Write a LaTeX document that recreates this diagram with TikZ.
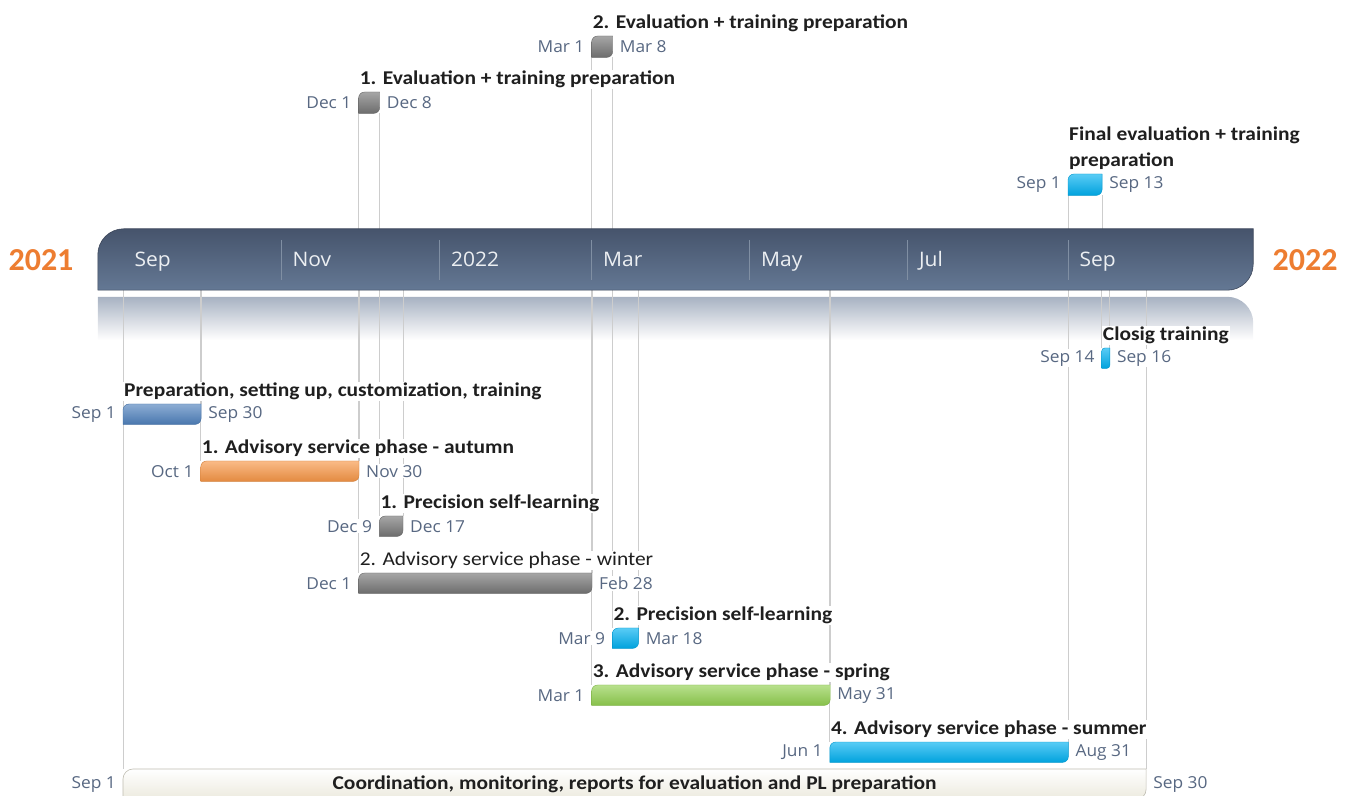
\documentclass[tikz,border=0pt]{standalone}
\usepackage{fontspec}
\setmainfont{Carlito}
\newfontfamily\taskfont{Carlito}[FakeStretch=1.1]
\newfontfamily\datefont{Open Sans}[FakeStretch=1.05]
\usetikzlibrary{positioning}

\definecolor{bandtop}{RGB}{70,84,108}
\definecolor{bandbot}{RGB}{100,120,148}
\definecolor{bandedge}{RGB}{58,68,88}
\definecolor{mirrorgray}{RGB}{168,178,194}
\definecolor{monthsep}{RGB}{128,143,163}
\definecolor{yearorange}{RGB}{237,125,49}
\definecolor{datetext}{RGB}{88,104,130}
\definecolor{guideline}{RGB}{205,205,205}
\definecolor{barblue}{RGB}{79,129,189}
\definecolor{barorange}{RGB}{247,150,70}
\definecolor{bargray}{RGB}{118,118,118}
\definecolor{barcyan}{RGB}{0,176,240}
\definecolor{bargreen}{RGB}{146,208,80}
\definecolor{barbeige}{RGB}{236,234,222}
\definecolor{beigeedge}{RGB}{190,188,176}

\tikzset{
    barbox/.style = {
        rectangle,
        inner sep=0pt,
        minimum height=20pt,
        anchor=north west,
        },
    barfill/.style = {
        top color=#1!65!white,
        bottom color=#1!92!black,
        draw=#1!85!black,
        line width=0.4pt,
        },
    task/.style = {
        font=\taskfont\fontsize{19.5}{26}\selectfont\bfseries,
        text=black!88,
        fill=white,
        inner sep=1pt,
        anchor=base west,
        },
    plain/.style = {
        font=\taskfont\fontsize{19.5}{26}\selectfont,
        },
    date/.style = {
        font=\datefont\fontsize{16.5}{19}\selectfont,
        text=datetext,
        fill=white,
        inner sep=1pt,
        },
    month/.style = {
        font=\datefont\fontsize{20}{22}\selectfont,
        text=white!88!bandbot,
        anchor=base west,
        },
    year/.style = {
        font=\fontsize{32}{36}\selectfont\bfseries,
        text=yearorange,
        },
    guide/.style = {
        draw=guideline,
        line width=0.8pt,
        },
}

% bar with rounded top left and bottom right corners
\newcommand{\leafbar}[3]{%
    \shade[#3] (#1.south west) -- ([yshift=-#2]#1.north west)
        arc[start angle=180, end angle=90, radius=#2] -- (#1.north east)
        -- ([yshift=#2]#1.south east)
        arc[start angle=0, end angle=-90, radius=#2] -- cycle;}

\begin{document}
\begin{tikzpicture}[x=1pt, y=1pt]
    \clip (0,0) rectangle (1354,795);

    % timeline and its reflection
    \node[rectangle, inner sep=0pt, minimum width=1155pt, minimum height=61pt] (band) at (675.5,535.5) {};
    \node[rectangle, inner sep=0pt, minimum width=1155pt, minimum height=43pt] (mirror) at (675.5,476.5) {};
    \shade[top color=mirrorgray, bottom color=white] (mirror.south west) -- (mirror.north west)
        -- ([xshift=-26pt]mirror.north east) arc[start angle=90, end angle=0, radius=26pt]
        -- (mirror.south east) -- cycle;

    % bars above the timeline
    \node[barbox, minimum width=20.7pt, minimum height=21pt] (eval1) at (358.6,703) {};
    \node[barbox, minimum width=20.7pt, minimum height=21pt] (eval2) at (591.6,759) {};
    \node[barbox, minimum width=33.7pt, minimum height=21pt] (final) at (1068,621) {};

    % bars below the timeline
    \node[barbox, minimum width=7.7pt] (closing) at (1101.7,447) {};
    \node[barbox, minimum width=77.7pt] (prep) at (123,391) {};
    \node[barbox, minimum width=157.9pt] (autumn) at (200.7,334) {};
    \node[barbox, minimum width=23.3pt] (self1) at (379.3,279) {};
    \node[barbox, minimum width=233pt] (winter) at (358.6,222) {};
    \node[barbox, minimum width=25.9pt] (self2) at (612.3,167) {};
    \node[barbox, minimum width=238.2pt] (spring) at (591.6,110) {};
    \node[barbox, minimum width=238.2pt] (summer) at (829.8,53) {};
    \node[barbox, minimum width=1022.7pt, minimum height=30pt] (coord) at (123,26) {};

    % guide lines to the timeline
    \foreach \b in {eval1,eval2,final}{
        \draw[guide] (\b.south west) -- (\b.south west |- band.north);
        \draw[guide] (\b.south east) -- (\b.south east |- band.north);
    }
    \foreach \b in {closing,prep,autumn,self1,winter,self2,spring,summer,coord}{
        \draw[guide] (band.south -| \b.north west) -- (\b.north west);
        \draw[guide] (band.south -| \b.north east) -- (\b.north east);
    }

    \leafbar{band}{26pt}{top color=bandtop, bottom color=bandbot, draw=bandedge, line width=0.6pt}

    % months
    \foreach \x in {281,439.6,591.6,749.6,907.5,1068}{
        \draw[monthsep, line width=0.7pt] (\x,555) -- (\x,515);
    }
    \foreach \x/\m [count=\i] in {123/Sep, 281/Nov, 439.6/2022, 591.6/Mar, 749.6/May, 907.5/Jul, 1068/Sep}{
        \node[month] (month\i) at (\x+8,528) {\m};
    }
    \node[year] (y2021) at (41,535) {2021};
    \node[year] (y2022) at (1305,535) {2022};

    % bars
    \leafbar{eval1}{6pt}{barfill=bargray}
    \leafbar{eval2}{6pt}{barfill=bargray}
    \leafbar{final}{6pt}{barfill=barcyan}
    \leafbar{closing}{3pt}{barfill=barcyan}
    \leafbar{prep}{6pt}{barfill=barblue}
    \leafbar{autumn}{6pt}{barfill=barorange}
    \leafbar{self1}{6pt}{barfill=bargray}
    \leafbar{winter}{6pt}{barfill=bargray}
    \leafbar{self2}{6pt}{barfill=barcyan}
    \leafbar{spring}{6pt}{barfill=bargreen}
    \leafbar{summer}{6pt}{barfill=barcyan}
    \leafbar{coord}{10pt}{top color=white, bottom color=barbeige, draw=beigeedge, line width=0.6pt}

    % titles and dates
    \node[task] (eval1 title) at ([yshift=7pt]eval1.north west) {1. Evaluation + training preparation};
    \node[date, left=6pt of eval1] (eval1 start) {Dec 1};
    \node[date, right=6pt of eval1] (eval1 end) {Dec 8};

    \node[task] (eval2 title) at ([yshift=7pt]eval2.north west) {2. Evaluation + training preparation};
    \node[date, left=6pt of eval2] (eval2 start) {Mar 1};
    \node[date, right=6pt of eval2] (eval2 end) {Mar 8};

    \node[task, anchor=south west, align=left] (final title) at ([yshift=3pt]final.north west) {Final evaluation + training\\preparation};
    \node[date, left=6pt of final] (final start) {Sep 1};
    \node[date, right=6pt of final] (final end) {Sep 13};

    \node[task] (closing title) at ([yshift=7pt]closing.north west) {Closig training};
    \node[date, left=6pt of closing] (closing start) {Sep 14};
    \node[date, right=6pt of closing] (closing end) {Sep 16};

    \node[task] (prep title) at ([yshift=7pt]prep.north west) {Preparation, setting up, customization, training};
    \node[date, left=6pt of prep] (prep start) {Sep 1};
    \node[date, right=6pt of prep] (prep end) {Sep 30};

    \node[task] (autumn title) at ([yshift=7pt]autumn.north west) {1. Advisory service phase - autumn};
    \node[date, left=6pt of autumn] (autumn start) {Oct 1};
    \node[date, right=6pt of autumn] (autumn end) {Nov 30};

    \node[task] (self1 title) at ([yshift=7pt]self1.north west) {1. Precision self-learning};
    \node[date, left=6pt of self1] (self1 start) {Dec 9};
    \node[date, right=6pt of self1] (self1 end) {Dec 17};

    \node[task, plain] (winter title) at ([yshift=7pt]winter.north west) {2. Advisory service phase - winter};
    \node[date, left=6pt of winter] (winter start) {Dec 1};
    \node[date, right=6pt of winter] (winter end) {Feb 28};

    \node[task] (self2 title) at ([yshift=7pt]self2.north west) {2. Precision self-learning};
    \node[date, left=6pt of self2] (self2 start) {Mar 9};
    \node[date, right=6pt of self2] (self2 end) {Mar 18};

    \node[task] (spring title) at ([yshift=7pt]spring.north west) {3. Advisory service phase - spring};
    \node[date, left=6pt of spring] (spring start) {Mar 1};
    \node[date, right=6pt of spring] (spring end) {May 31};

    \node[task] (summer title) at ([yshift=7pt]summer.north west) {4. Advisory service phase - summer};
    \node[date, left=6pt of summer] (summer start) {Jun 1};
    \node[date, right=6pt of summer] (summer end) {Aug 31};

    \node[task, fill=none, anchor=center] (coord title) at (coord.center) {Coordination, monitoring, reports for evaluation and PL preparation};
    \node[date, left=6pt of coord] (coord start) {Sep 1};
    \node[date, right=6pt of coord] (coord end) {Sep 30};
\end{tikzpicture}
\end{document}
